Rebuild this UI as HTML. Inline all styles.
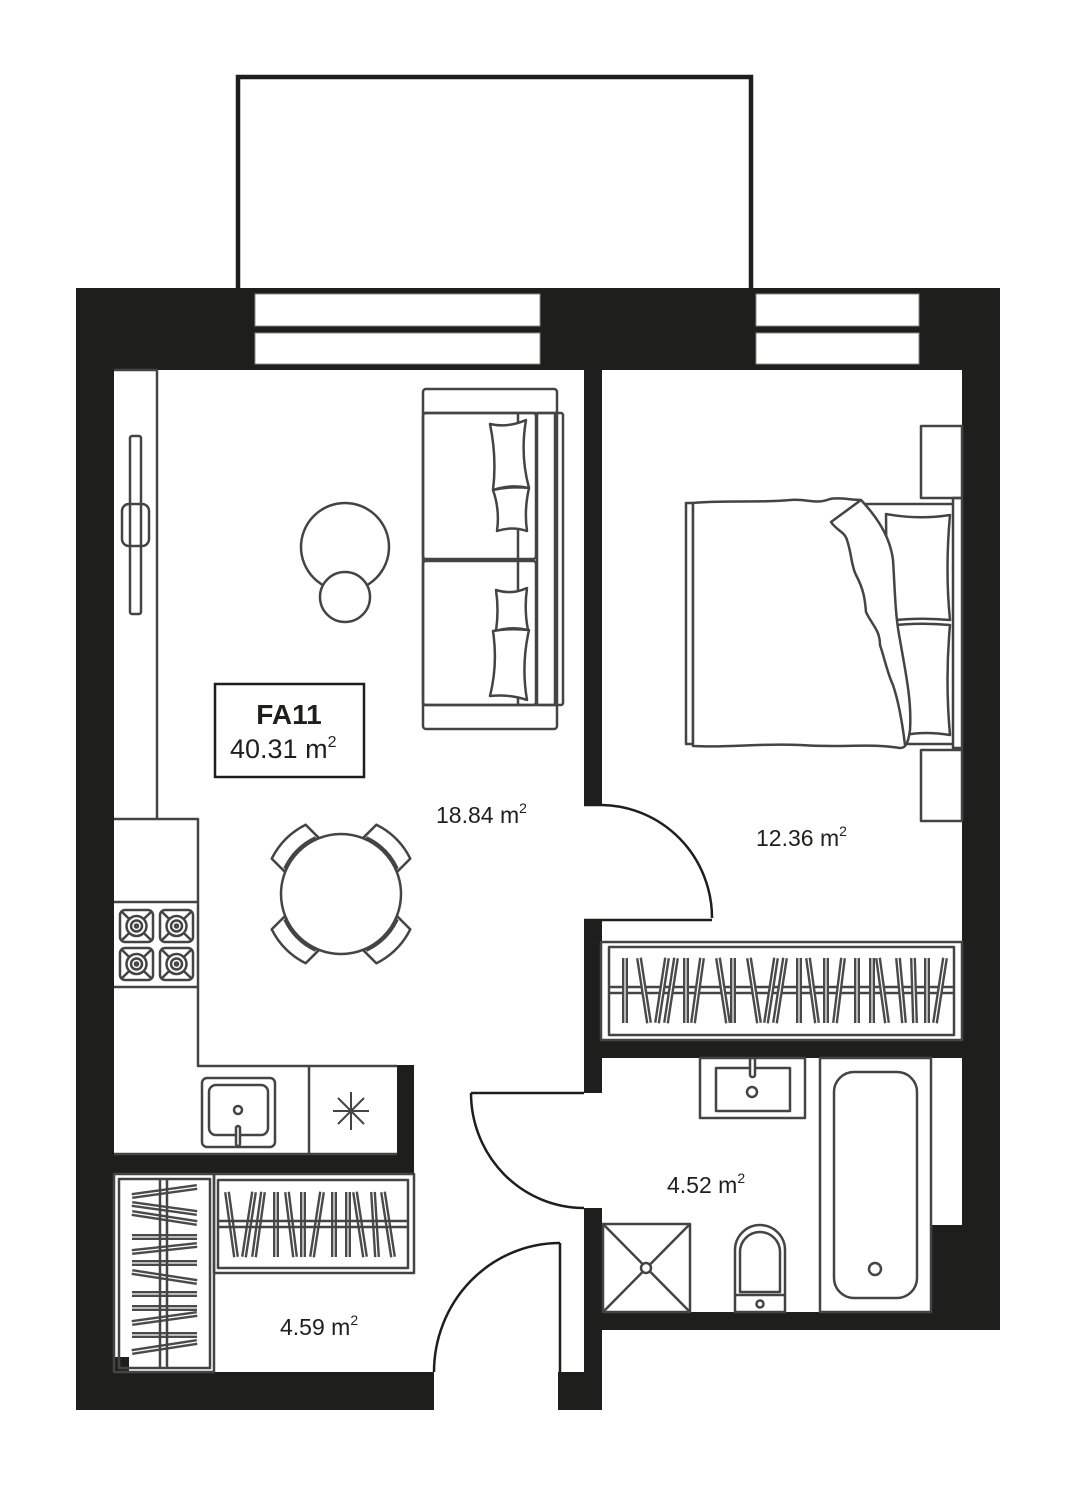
<!DOCTYPE html>
<html><head><meta charset="utf-8"><style>
html,body{margin:0;padding:0;background:#fff}
svg{display:block}
text{font-family:"Liberation Sans",sans-serif;fill:#1e1e1c}
</style></head><body>
<svg width="1076" height="1486" viewBox="0 0 1076 1486" xmlns="http://www.w3.org/2000/svg">
<rect width="1076" height="1486" fill="#fff"/>
<!-- balcony -->
<rect x="238" y="77" width="513" height="214" fill="none" stroke="#1e1e1c" stroke-width="4.5"/>
<g fill="#1e1e1c">
<rect x="76" y="288" width="924" height="82"/>
<rect x="76" y="288" width="38" height="1122"/>
<rect x="962" y="288" width="38" height="1042"/>
<rect x="76" y="1372" width="358" height="38"/>
<rect x="558" y="1372" width="44" height="38"/>
<rect x="584" y="370" width="18" height="435"/>
<rect x="584" y="920" width="18" height="173"/>
<rect x="584" y="1208" width="18" height="202"/>
<rect x="601" y="1040" width="361" height="18"/>
<rect x="602" y="1312" width="398" height="18"/>
<rect x="931" y="1225" width="31" height="88"/>
<rect x="114" y="1154" width="300" height="19"/>
<rect x="397" y="1065" width="17" height="108"/>
<rect x="113" y="1357" width="16" height="15"/>
</g>
<g fill="#fff" stroke="#888" stroke-width="1">
<rect x="255" y="294" width="285" height="32"/>
<rect x="255" y="333" width="285" height="31"/>
<rect x="756" y="294" width="163" height="32"/>
<rect x="756" y="333" width="163" height="31"/>
</g>
<g fill="none" stroke="#444" stroke-width="2.5" stroke-linejoin="round">
<polyline points="114,370 157,370 157,819"/>
<rect x="130" y="436" width="11" height="178" rx="2"/>
<rect x="122" y="504" width="27" height="42" rx="7"/>
<polyline points="114,819 198,819 198,1066 397,1066"/>
<line x1="114" y1="902" x2="198" y2="902"/>
<line x1="114" y1="987" x2="198" y2="987"/>
<line x1="309" y1="1066" x2="309" y2="1154"/>
<line x1="114" y1="1154" x2="397" y2="1154"/>
<rect x="202" y="1078" width="73" height="69" rx="5"/>
<rect x="209" y="1085" width="59" height="50" rx="7"/>
<circle cx="238" cy="1110" r="4"/>
<rect x="236" y="1126" width="4" height="20" rx="2" fill="#fff"/>
<rect x="423" y="389" width="134" height="340" rx="3"/>
<line x1="423" y1="413" x2="557" y2="413"/>
<line x1="423" y1="705" x2="557" y2="705"/>
<rect x="423" y="413" width="113" height="146" rx="3"/>
<rect x="423" y="561" width="113" height="144" rx="3"/>
<line x1="518" y1="413" x2="518" y2="705"/>
<rect x="537" y="413" width="26" height="292" rx="2"/>
<line x1="555" y1="413" x2="555" y2="705"/>
<path d="M490,424 Q508,428 526,420 Q520,455 529,488 Q510,484 493,490 Q497,458 490,424 Z" fill="#fff"/>
<path d="M493,490 Q510,486 529,488 Q524,510 527,531 Q512,526 497,531 Q500,510 493,490 Z" fill="#fff"/>
<path d="M496,590 Q512,595 527,588 Q524,610 528,630 Q512,626 496,631 Q499,610 496,590 Z" fill="#fff"/>
<path d="M493,631 Q510,628 529,630 Q521,665 527,700 Q510,694 490,696 Q498,664 493,631 Z" fill="#fff"/>
<circle cx="345" cy="547" r="44"/>
<circle cx="345" cy="597" r="25" fill="#fff"/>
<g transform="translate(341,894)">
<g transform="rotate(-45)"><path d="M-24,-56 L-24,-74 Q0,-82 24,-74 L24,-56 Z" fill="#fff"/><path d="M-22,-58 Q0,-66 22,-58"/></g>
<g transform="rotate(45)"><path d="M-24,-56 L-24,-74 Q0,-82 24,-74 L24,-56 Z" fill="#fff"/><path d="M-22,-58 Q0,-66 22,-58"/></g>
<g transform="rotate(135)"><path d="M-24,-56 L-24,-74 Q0,-82 24,-74 L24,-56 Z" fill="#fff"/><path d="M-22,-58 Q0,-66 22,-58"/></g>
<g transform="rotate(225)"><path d="M-24,-56 L-24,-74 Q0,-82 24,-74 L24,-56 Z" fill="#fff"/><path d="M-22,-58 Q0,-66 22,-58"/></g>
<circle cx="0" cy="0" r="60" fill="#fff"/>
</g>
<rect x="921" y="426" width="41" height="72"/>
<rect x="921" y="750" width="41" height="71"/>
<rect x="953" y="498" width="9" height="250"/>
<rect x="686" y="503" width="7" height="241"/>
<polyline points="860,504 953,504"/>
<polyline points="905,744 953,744"/>
<path d="M886,514 Q918,520 950,515 Q945,570 950,620 Q918,617 887,621 Z"/>
<path d="M887,626 Q918,622 950,625 Q945,680 950,735 Q925,731 905,735"/>
<path d="M693,503 C720,500 760,503 790,500 C805,498 815,505 830,499 C840,497 850,500 861,500 C875,515 890,535 893,560 C895,590 895,615 900,640 C905,670 912,700 910,730 C908,745 905,748 900,748 C870,743 840,748 800,745 C760,743 730,748 693,746 Z" fill="#fff"/>
<path d="M861,500 L831,522 C836,530 845,532 847,540 C852,555 851,565 856,575 C864,590 865,600 866,612 C872,625 880,630 880,645 C885,660 888,675 893,685 C898,700 902,720 905,745"/>
<rect x="601" y="942" width="361" height="98"/>
<rect x="609" y="947" width="345" height="88"/>
<line x1="609" y1="987" x2="954" y2="987"/>
<line x1="609" y1="993" x2="954" y2="993"/>
</g>
<g stroke="#4a4a4a" stroke-width="6" stroke-linecap="butt">
<path d="M625,958V1023 M639,958L649,1023 M667,958L657,1023 M676,958L666,1023 M686,958V1023 M702,958L693,1023 M718,958L728,1023 M733,958V1023 M749,958L759,1023 M776,958L766,1023 M785,958L775,1023 M799,958V1023 M808,958L817,1023 M826,958V1023 M843,958L835,1023 M857,958V1023 M872,958V1023 M878,958L887,1023 M898,958L904,1023 M913,958L915,1023 M927,958V1023 M945,958L935,1023"/>
<path d="M132,1196L197,1187 M132,1204L197,1213 M132,1213L197,1223 M132,1237H197 M132,1252L197,1245 M132,1263H197 M132,1272L197,1282 M132,1294H197 M132,1308H197 M132,1323L197,1314 M132,1335H197 M132,1352L197,1342"/>
<path d="M227,1192L236,1257 M254,1192L244,1257 M263,1192L254,1257 M276,1192V1257 M287,1192L295,1257 M303,1192V1257 M322,1192L312,1257 M334,1192V1257 M348,1192V1257 M355,1192L365,1257 M373,1192L377,1257 M383,1192L393,1257"/>
</g>
<g stroke="#fff" stroke-width="1.2">
<path d="M625,958V1023 M639,958L649,1023 M667,958L657,1023 M676,958L666,1023 M686,958V1023 M702,958L693,1023 M718,958L728,1023 M733,958V1023 M749,958L759,1023 M776,958L766,1023 M785,958L775,1023 M799,958V1023 M808,958L817,1023 M826,958V1023 M843,958L835,1023 M857,958V1023 M872,958V1023 M878,958L887,1023 M898,958L904,1023 M913,958L915,1023 M927,958V1023 M945,958L935,1023"/>
<path d="M132,1196L197,1187 M132,1204L197,1213 M132,1213L197,1223 M132,1237H197 M132,1252L197,1245 M132,1263H197 M132,1272L197,1282 M132,1294H197 M132,1308H197 M132,1323L197,1314 M132,1335H197 M132,1352L197,1342"/>
<path d="M227,1192L236,1257 M254,1192L244,1257 M263,1192L254,1257 M276,1192V1257 M287,1192L295,1257 M303,1192V1257 M322,1192L312,1257 M334,1192V1257 M348,1192V1257 M355,1192L365,1257 M373,1192L377,1257 M383,1192L393,1257"/>
</g>
<g fill="none" stroke="#444" stroke-width="2.5" stroke-linejoin="round">
<rect x="114" y="1174" width="100" height="198"/>
<rect x="119" y="1179" width="91" height="189"/>
<line x1="160" y1="1179" x2="160" y2="1368"/>
<line x1="167" y1="1179" x2="167" y2="1368"/>
<rect x="214" y="1174" width="200" height="99"/>
<rect x="218" y="1180" width="190" height="88"/>
<line x1="218" y1="1221" x2="408" y2="1221"/>
<line x1="218" y1="1227" x2="408" y2="1227"/>
<path d="M351,1092V1130 M333,1111H369 M338,1098L364,1124 M364,1098L338,1124" stroke-width="2"/>
<g id="b">
<rect x="120" y="910" width="33" height="32" rx="5"/>
<path d="M122,912L151,940 M151,912L122,940"/>
<circle cx="136.5" cy="926" r="10" fill="#fff"/>
<circle cx="136.5" cy="926" r="5.5"/>
<circle cx="136.5" cy="926" r="1.5"/>
</g>
<use href="#b" x="40" y="0"/>
<use href="#b" x="0" y="38"/>
<use href="#b" x="40" y="38"/>
<rect x="700" y="1058" width="105" height="60"/>
<rect x="716" y="1068" width="74" height="43"/>
<circle cx="752" cy="1092" r="5"/>
<rect x="750" y="1058" width="5" height="19" rx="2" fill="#fff"/>
<rect x="820" y="1058" width="111" height="254"/>
<rect x="834" y="1072" width="83" height="226" rx="20"/>
<circle cx="875" cy="1269" r="6"/>
<rect x="603" y="1224" width="87" height="88"/>
<path d="M603,1224L690,1312 M690,1224L603,1312"/>
<circle cx="646" cy="1268" r="5" fill="#fff"/>
<path d="M735,1312V1250 A25,25 0 0 1 785,1250 V1312 Z"/>
<path d="M740,1292V1252 A20,20 0 0 1 780,1252 V1292 Z"/>
<line x1="735" y1="1295" x2="785" y2="1295"/>
<circle cx="760" cy="1304" r="3.5"/>
</g>
<g fill="none" stroke="#1e1e1c" stroke-width="2.5">
<path d="M602,805 A112,113 0 0 1 712,918"/>
<line x1="584" y1="920" x2="712" y2="920"/>
<line x1="584" y1="805" x2="602" y2="805"/>
<path d="M471,1093 A113,115 0 0 0 584,1208"/>
<line x1="471" y1="1093" x2="584" y2="1093"/>
<path d="M434,1372 A126,129 0 0 1 560,1243"/>
<line x1="560" y1="1243" x2="560" y2="1372"/>
</g>
<rect x="215" y="684" width="149" height="93" fill="none" stroke="#1e1e1c" stroke-width="2.5"/>
<text x="289" y="724" font-size="28" font-weight="bold" text-anchor="middle">FA11</text>
<text x="230" y="758" font-size="27">40.31 m<tspan font-size="16" dy="-11">2</tspan></text>
<text x="436" y="823" font-size="23">18.84 m<tspan font-size="14" dy="-10">2</tspan></text>
<text x="756" y="846" font-size="23">12.36 m<tspan font-size="14" dy="-10">2</tspan></text>
<text x="667" y="1193" font-size="23">4.52 m<tspan font-size="14" dy="-10">2</tspan></text>
<text x="280" y="1335" font-size="23">4.59 m<tspan font-size="14" dy="-10">2</tspan></text>
</svg>
</body></html>
